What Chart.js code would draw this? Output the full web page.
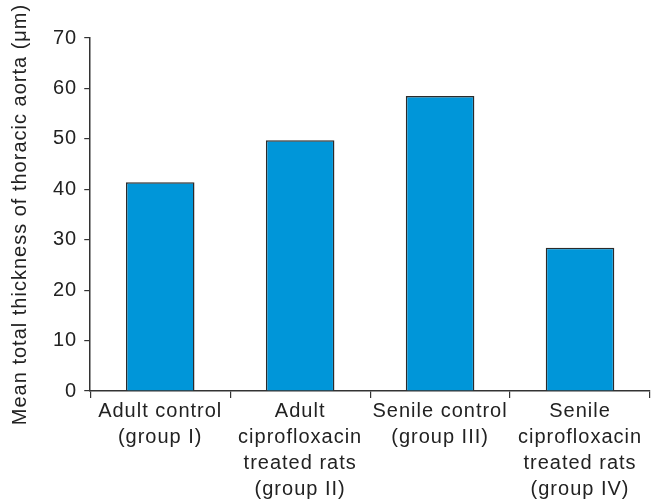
<!DOCTYPE html>
<html>
<head>
<meta charset="utf-8">
<script src="https://cdn.jsdelivr.net/npm/chart.js"></script>
<style>
html,body{margin:0;padding:0;background:#fff;}
#wrap{width:651px;height:500px;}
</style>
</head>
<body>
<div id="wrap"><canvas id="c" width="651" height="500"></canvas></div>
<script>
const categories = [
  ["Adult control", "(group I)"],
  ["Adult", "ciprofloxacin", "treated rats", "(group II)"],
  ["Senile control", "(group III)"],
  ["Senile", "ciprofloxacin", "treated rats", "(group IV)"]
];
const thickness = [41.4, 49.7, 58.5, 28.4];
const yTicks = [0, 10, 20, 30, 40, 50, 60, 70];
const yTitle = "Mean total thickness of thoracic aorta (\u03bcm)";

const spacing = {
  id: 'spacing',
  beforeInit(chart) { chart.ctx.letterSpacing = '1px'; },
  beforeDraw(chart) { chart.ctx.letterSpacing = '1px'; }
};

new Chart(document.getElementById('c'), {
  type: 'bar',
  data: {
    labels: categories,
    datasets: [{
      data: thickness,
      backgroundColor: '#0096d9',
      borderColor: '#2b2b2b',
      borderWidth: 1.5,
      borderSkipped: 'bottom',
      categoryPercentage: 1,
      barPercentage: 0.49
    }]
  },
  options: {
    responsive: false,
    animation: false,
    layout: { padding: { top: 38, right: 1, left: 8, bottom: -2 } },
    plugins: { legend: { display: false }, tooltip: { enabled: false } },
    scales: {
      x: {
        grid: { display: true, drawOnChartArea: false, tickLength: 7, color: '#333', lineWidth: 1.2, offset: true },
        border: { color: '#333', width: 1.5 },
        ticks: { color: '#222', font: { family: 'Liberation Sans', size: 20, lineHeight: 1.3 }, padding: 0, maxRotation: 0, autoSkip: false }
      },
      y: {
        min: 0, max: 70,
        afterBuildTicks(axis) { axis.ticks = yTicks.map(v => ({ value: v })); },
        grid: { display: true, drawOnChartArea: false, tickLength: 6, color: '#333', lineWidth: 1.2 },
        border: { color: '#333', width: 1.5 },
        ticks: { color: '#222', font: { family: 'Liberation Sans', size: 20 }, padding: 7 },
        title: { display: true, text: yTitle, color: '#222', font: { family: 'Liberation Sans', size: 20 }, padding: { top: 0, bottom: 16 } }
      }
    }
  },
  plugins: [spacing]
});
</script>
</body>
</html>
